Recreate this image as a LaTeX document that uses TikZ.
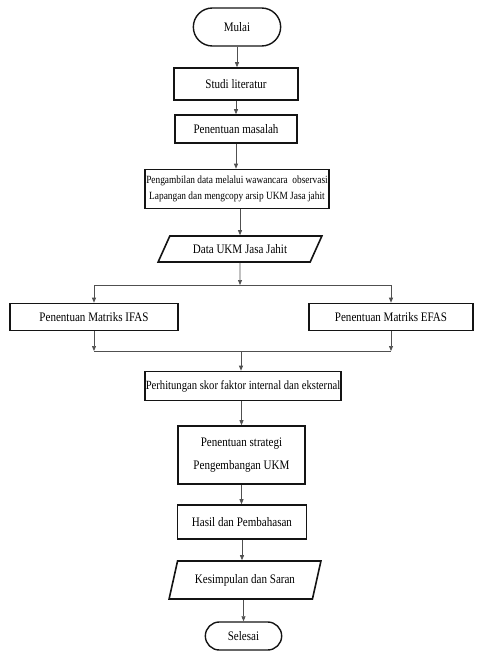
\documentclass[tikz,border=0pt]{standalone}
\usepackage{fontspec}
\setmainfont{Liberation Serif}[FakeStretch=0.85]
\usepackage{tikz}
\usetikzlibrary{shapes.geometric, shapes.misc, arrows.meta, positioning, calc}
\definecolor{mydark}{RGB}{20,20,20}
\definecolor{mygray}{RGB}{80,80,80}
\tikzset{
  block/.style={rectangle, draw=mydark, line width=1.6pt, align=center, inner sep=1pt, font=\fontsize{13}{15}\selectfont},
  term/.style={rounded rectangle, draw=mydark, line width=1.4pt, align=center, font=\fontsize{13}{15}\selectfont},
  iobox/.style={trapezium, trapezium stretches=true, draw=mydark, line width=1.6pt, align=center, font=\fontsize{13}{15}\selectfont},
  arrow/.style={-{Triangle[length=5pt, width=4pt]}, line width=0.7pt, color=mygray},
  line/.style={line width=0.7pt, color=mygray}
}
\begin{document}
\begin{tikzpicture}[x=1pt, y=-1pt]
  \useasboundingbox (0,0) rectangle (476,652);

  % main column
  \node[term, minimum width=94, minimum height=38] (mulai) at (237,27) {Mulai};
  \node[block, minimum width=124, minimum height=32] (studi) at (236,84) {Studi literatur};
  \node[block, minimum width=122, minimum height=28] (masalah) at (236,129) {Penentuan masalah};
  \node[block, minimum width=171, minimum height=39, font=\fontsize{11}{16}\selectfont] (ambil) at (237,189)
    {Pengambilan data melalui wawancara\ \ observasi\\Lapangan dan mengcopy arsip UKM Jasa jahit};
  \node[iobox, trapezium left angle=62, trapezium right angle=118, minimum width=164, minimum height=26] (data) at (240,249) {Data UKM Jasa Jahit};

  % two branches
  \node[block, minimum width=168, minimum height=27] (ifas) at (94,317) {Penentuan Matriks IFAS};
  \node[block, minimum width=164, minimum height=27] (efas) at (391,317) {Penentuan Matriks EFAS};

  \node[block, minimum width=194, minimum height=29, font=\fontsize{12.5}{15}\selectfont] (hitung) at (243,386) {Perhitungan skor faktor internal dan eksternal};
  \node[block, minimum width=127, minimum height=58, font=\fontsize{13}{23}\selectfont] (strategi) at (241.5,455) {Penentuan strategi\\Pengembangan UKM};
  \node[block, minimum width=129, minimum height=34] (hasil) at (242,522) {Hasil dan Pembahasan};
  \node[iobox, trapezium left angle=70, trapezium right angle=110, minimum width=152, minimum height=38] (simpul) at (245,580) {Kesimpulan dan Saran};
  \node[term, minimum width=83, minimum height=28] (selesai) at (243.5,636) {Selesai};

  \coordinate (split) at (240,285);
  \coordinate (join) at (241,351);

  % connectors
  \draw[arrow] (mulai.south) -- (mulai.south |- studi.north);
  \draw[arrow] (studi.south) -- (studi.south |- masalah.north);
  \draw[arrow] (masalah.south) -- (masalah.south |- ambil.north);
  \draw[arrow] (ambil.south -| data.north) -- (data.north);
  \draw[arrow] (data.south) -- (split);
  \draw[line] (ifas.north |- split) -- (efas.north |- split);
  \draw[arrow] (ifas.north |- split) -- (ifas.north);
  \draw[arrow] (efas.north |- split) -- (efas.north);
  \draw[arrow] (ifas.south) -- (ifas.south |- join);
  \draw[arrow] (efas.south) -- (efas.south |- join);
  \draw[line] (ifas.south |- join) -- (efas.south |- join);
  \draw[arrow] (join) -- (join |- hitung.north);
  \draw[arrow] (hitung.south -| strategi.north) -- (strategi.north);
  \draw[arrow] (strategi.south) -- (strategi.south |- hasil.north);
  \draw[arrow] (hasil.south) -- (hasil.south |- simpul.north);
  \draw[arrow] (simpul.south -| selesai.north) -- (selesai.north);
\end{tikzpicture}
\end{document}
